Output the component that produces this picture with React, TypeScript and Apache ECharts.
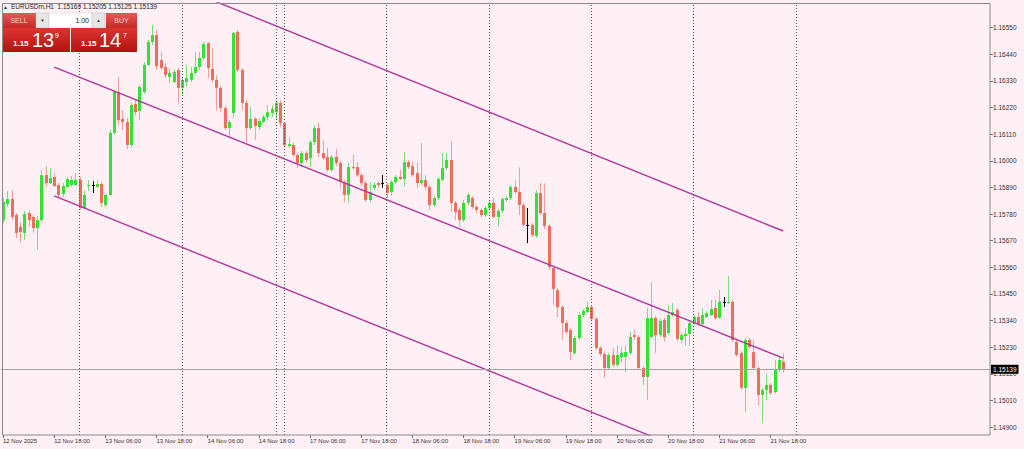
import React, { useEffect, useRef } from "react";
import * as echarts from "echarts";

const timeLabels: string[] = [
  "12 Nov 2025", "12 Nov 18:00", "13 Nov 06:00", "13 Nov 18:00", "14 Nov 06:00", "14 Nov 18:00",
  "17 Nov 06:00", "17 Nov 18:00", "18 Nov 06:00", "18 Nov 18:00", "19 Nov 06:00", "19 Nov 18:00",
  "20 Nov 06:00", "20 Nov 18:00", "21 Nov 06:00", "21 Nov 18:00",
];

const yTicks: number[] = [
  1.149, 1.1501, 1.1512, 1.1523, 1.1534, 1.1545, 1.1556, 1.1567, 1.1578, 1.1589,
  1.16, 1.1611, 1.1622, 1.1633, 1.1644, 1.1655,
];

const separators: number[] = [18, 42, 64, 66, 90, 114, 138, 162, 186];

const opens: number[] = [
  1.15755, 1.15822, 1.15842, 1.15776, 1.15727, 1.15702, 1.15784, 1.15768, 1.15722, 1.15755,
  1.15941, 1.15908, 1.15933, 1.15900, 1.15863, 1.15892, 1.15900, 1.15900, 1.15921, 1.15805,
  1.15896, 1.15900, 1.15892, 1.15904, 1.15817, 1.15859, 1.16115, 1.16284, 1.16173, 1.16160,
  1.16065, 1.16234, 1.16206, 1.16284, 1.16396, 1.16491, 1.16519, 1.16416, 1.16387, 1.16346,
  1.16325, 1.16375, 1.16301, 1.16325, 1.16334, 1.16363, 1.16387, 1.16424, 1.16486, 1.16379,
  1.16334, 1.16301, 1.16218, 1.16135, 1.16197, 1.16532, 1.16375, 1.16239, 1.16135, 1.16173,
  1.16139, 1.16160, 1.16181, 1.16197, 1.16201, 1.16239, 1.16156, 1.16061, 1.16065, 1.16024,
  1.15991, 1.16032, 1.16011, 1.16077, 1.16135, 1.16032, 1.16016, 1.15962, 1.16016, 1.15991,
  1.15912, 1.15859, 1.15974, 1.15974, 1.15941, 1.15908, 1.15838, 1.15888, 1.15908, 1.15908,
  1.15900, 1.15871, 1.15912, 1.15933, 1.15925, 1.15995, 1.15978, 1.15949, 1.15908, 1.15921,
  1.15892, 1.15817, 1.15846, 1.15921, 1.15970, 1.16003, 1.15826, 1.15797, 1.15755, 1.15826,
  1.15846, 1.15809, 1.15797, 1.15776, 1.15805, 1.15826, 1.15768, 1.15793, 1.15838, 1.15846,
  1.15892, 1.15871, 1.15817, 1.15735, 1.15735, 1.15689, 1.15867, 1.15784, 1.15731, 1.15557,
  1.15466, 1.15396, 1.15330, 1.15301, 1.15206, 1.15268, 1.15363, 1.15375, 1.15396, 1.15347,
  1.15227, 1.15202, 1.15144, 1.15198, 1.15157, 1.15190, 1.15190, 1.15206, 1.15280, 1.15272,
  1.15144, 1.15107, 1.15272, 1.15351, 1.15280, 1.15342, 1.15289, 1.15363, 1.15384, 1.15260,
  1.15276, 1.15285, 1.15330, 1.15355, 1.15326, 1.15355, 1.15363, 1.15392, 1.15351, 1.15417,
  1.15413, 1.15417, 1.15252, 1.15206, 1.15062, 1.15260, 1.15210, 1.15144, 1.15033, 1.15053,
  1.15074, 1.15045, 1.15136, 1.15169,
];

const closes: number[] = [
  1.15830, 1.15842, 1.15768, 1.15702, 1.15706, 1.15780, 1.15755, 1.15722, 1.15755, 1.15941,
  1.15908, 1.15929, 1.15896, 1.15859, 1.15896, 1.15925, 1.15921, 1.15921, 1.15805, 1.15859,
  1.15900, 1.15900, 1.15904, 1.15826, 1.15859, 1.16115, 1.16284, 1.16168, 1.16160, 1.16065,
  1.16230, 1.16201, 1.16305, 1.16396, 1.16491, 1.16519, 1.16391, 1.16383, 1.16354, 1.16363,
  1.16367, 1.16301, 1.16334, 1.16342, 1.16363, 1.16387, 1.16424, 1.16482, 1.16383, 1.16334,
  1.16301, 1.16218, 1.16135, 1.16160, 1.16528, 1.16375, 1.16239, 1.16135, 1.16173, 1.16144,
  1.16164, 1.16181, 1.16201, 1.16214, 1.16239, 1.16156, 1.16065, 1.16069, 1.16024, 1.15991,
  1.16032, 1.16003, 1.16077, 1.16135, 1.16032, 1.16011, 1.15962, 1.16016, 1.15991, 1.15912,
  1.15859, 1.15974, 1.15970, 1.15941, 1.15908, 1.15838, 1.15871, 1.15900, 1.15900, 1.15908,
  1.15867, 1.15912, 1.15933, 1.15925, 1.15995, 1.15974, 1.15941, 1.15908, 1.15921, 1.15892,
  1.15817, 1.15846, 1.15925, 1.15970, 1.16003, 1.15826, 1.15788, 1.15755, 1.15826, 1.15859,
  1.15809, 1.15797, 1.15776, 1.15805, 1.15826, 1.15768, 1.15793, 1.15842, 1.15846, 1.15892,
  1.15871, 1.15817, 1.15735, 1.15735, 1.15693, 1.15867, 1.15784, 1.15731, 1.15561, 1.15471,
  1.15396, 1.15330, 1.15293, 1.15210, 1.15268, 1.15363, 1.15380, 1.15396, 1.15347, 1.15227,
  1.15202, 1.15144, 1.15198, 1.15157, 1.15198, 1.15206, 1.15210, 1.15272, 1.15272, 1.15144,
  1.15107, 1.15351, 1.15351, 1.15280, 1.15338, 1.15272, 1.15363, 1.15375, 1.15264, 1.15280,
  1.15285, 1.15330, 1.15355, 1.15326, 1.15363, 1.15371, 1.15388, 1.15351, 1.15417, 1.15417,
  1.15417, 1.15260, 1.15198, 1.15062, 1.15260, 1.15231, 1.15144, 1.15033, 1.15053, 1.15074,
  1.15041, 1.15136, 1.15177, 1.15139,
];

const lows: number[] = [
  1.15743, 1.15809, 1.15755, 1.15681, 1.15660, 1.15673, 1.15727, 1.15702, 1.15632, 1.15747,
  1.15892, 1.15904, 1.15892, 1.15850, 1.15850, 1.15888, 1.15892, 1.15896, 1.15797, 1.15801,
  1.15875, 1.15867, 1.15888, 1.15809, 1.15809, 1.15855, 1.16106, 1.16148, 1.16127, 1.16049,
  1.16053, 1.16189, 1.16168, 1.16276, 1.16391, 1.16478, 1.16375, 1.16375, 1.16342, 1.16321,
  1.16321, 1.16239, 1.16272, 1.16305, 1.16325, 1.16354, 1.16375, 1.16416, 1.16342, 1.16325,
  1.16210, 1.16201, 1.16127, 1.16094, 1.16177, 1.16367, 1.16210, 1.16077, 1.16127, 1.16086,
  1.16127, 1.16156, 1.16168, 1.16181, 1.16168, 1.16139, 1.16053, 1.16053, 1.16016, 1.15970,
  1.15974, 1.15991, 1.15974, 1.16065, 1.16016, 1.16003, 1.15954, 1.15954, 1.15978, 1.15888,
  1.15830, 1.15826, 1.15962, 1.15933, 1.15896, 1.15830, 1.15826, 1.15879, 1.15888, 1.15888,
  1.15846, 1.15855, 1.15904, 1.15921, 1.15892, 1.15966, 1.15933, 1.15888, 1.15900, 1.15879,
  1.15797, 1.15809, 1.15838, 1.15916, 1.15962, 1.15788, 1.15755, 1.15727, 1.15747, 1.15817,
  1.15801, 1.15784, 1.15768, 1.15768, 1.15797, 1.15764, 1.15727, 1.15784, 1.15830, 1.15838,
  1.15863, 1.15776, 1.15727, 1.15660, 1.15685, 1.15681, 1.15776, 1.15718, 1.15549, 1.15404,
  1.15355, 1.15260, 1.15285, 1.15177, 1.15198, 1.15260, 1.15355, 1.15371, 1.15338, 1.15219,
  1.15194, 1.15103, 1.15136, 1.15148, 1.15148, 1.15169, 1.15128, 1.15198, 1.15260, 1.15136,
  1.15074, 1.15012, 1.15268, 1.15206, 1.15272, 1.15252, 1.15280, 1.15355, 1.15256, 1.15248,
  1.15235, 1.15235, 1.15322, 1.15318, 1.15318, 1.15351, 1.15359, 1.15342, 1.15347, 1.15396,
  1.15409, 1.15252, 1.15190, 1.15053, 1.14962, 1.15223, 1.15136, 1.14991, 1.14917, 1.15012,
  1.15033, 1.15037, 1.15128, 1.15125,
];

const highs: number[] = [
  1.15846, 1.15875, 1.15879, 1.15784, 1.15747, 1.15793, 1.15797, 1.15776, 1.15772, 1.15962,
  1.15978, 1.15970, 1.15949, 1.15908, 1.15908, 1.15933, 1.15937, 1.15949, 1.15933, 1.15879,
  1.15921, 1.15916, 1.15921, 1.15912, 1.15863, 1.16127, 1.16292, 1.16346, 1.16210, 1.16177,
  1.16239, 1.16251, 1.16313, 1.16408, 1.16499, 1.16561, 1.16540, 1.16449, 1.16404, 1.16383,
  1.16375, 1.16383, 1.16346, 1.16396, 1.16387, 1.16449, 1.16449, 1.16491, 1.16491, 1.16466,
  1.16354, 1.16309, 1.16226, 1.16168, 1.16532, 1.16540, 1.16383, 1.16251, 1.16222, 1.16181,
  1.16177, 1.16189, 1.16230, 1.16230, 1.16251, 1.16251, 1.16160, 1.16098, 1.16073, 1.16032,
  1.16040, 1.16040, 1.16086, 1.16148, 1.16156, 1.16086, 1.16053, 1.16024, 1.16049, 1.15999,
  1.15921, 1.15991, 1.16024, 1.15995, 1.15949, 1.15916, 1.15912, 1.15912, 1.15912, 1.15941,
  1.15908, 1.15921, 1.15941, 1.15962, 1.16036, 1.16003, 1.15995, 1.15991, 1.16073, 1.15941,
  1.15900, 1.15855, 1.15933, 1.16032, 1.16032, 1.16082, 1.15834, 1.15805, 1.15838, 1.15867,
  1.15855, 1.15817, 1.15805, 1.15813, 1.15838, 1.15846, 1.15801, 1.15850, 1.15855, 1.15900,
  1.15921, 1.15974, 1.15826, 1.15805, 1.15743, 1.15879, 1.15908, 1.15908, 1.15739, 1.15565,
  1.15475, 1.15404, 1.15338, 1.15309, 1.15276, 1.15375, 1.15388, 1.15417, 1.15404, 1.15355,
  1.15235, 1.15210, 1.15206, 1.15227, 1.15239, 1.15231, 1.15239, 1.15293, 1.15301, 1.15280,
  1.15152, 1.15392, 1.15499, 1.15359, 1.15347, 1.15351, 1.15404, 1.15413, 1.15392, 1.15289,
  1.15309, 1.15338, 1.15363, 1.15375, 1.15392, 1.15380, 1.15425, 1.15425, 1.15466, 1.15437,
  1.15524, 1.15425, 1.15260, 1.15214, 1.15268, 1.15268, 1.15260, 1.15152, 1.15062, 1.15123,
  1.15082, 1.15177, 1.15190, 1.15205,
];

// trend channel anchor points: [bar index, price]
const upperChannel: number[][] = [[49, 1.16664], [183, 1.1571]];
const middleChannel: number[][] = [[12, 1.16387], [183, 1.15185]];
const lowerChannel: number[][] = [[12, 1.15855], [152, 1.14863]];

const currentPrice = 1.15139;
const headerText = "EURUSDm,H1  1.15169 1.15205 1.15125 1.15139";

const Y_MIN = 1.148675;
const Y_MAX = 1.166516;
const N_SLOTS = 232;

const BG = "#fff0f5";
const BULL = "#33e233";
const BEAR = "#ef6e5b";
const BULL_WICK = "#7ddc7d";
const BEAR_WICK = "#eda093";
const CHANNEL = "#b0339f";
const FONT = "'Liberation Sans', Arial, sans-serif";

const categories: string[] = Array.from({ length: N_SLOTS }, (_, i) => String(i));
const candleRows = opens.map((o, i) => [i, o, closes[i], lows[i], highs[i]]);

function panelGraphics(): any[] {
  const btnGrad = () =>
    new echarts.graphic.LinearGradient(0, 0, 0, 1, [
      { offset: 0, color: "#e45a55" },
      { offset: 1, color: "#c72a27" },
    ]);
  const bigGrad = () =>
    new echarts.graphic.LinearGradient(0, 0, 0, 1, [
      { offset: 0, color: "#dc3431" },
      { offset: 1, color: "#b3130f" },
    ]);
  const txt = (text: string, x: number, y: number, size: number, fill: string, weight = "normal", align = "left", valign = "middle") => ({
    type: "text",
    x,
    y,
    z: 101,
    silent: true,
    style: { text, fill, fontSize: size, fontFamily: FONT, fontWeight: weight, align, verticalAlign: valign },
  });
  return [
    txt("▲", 3, 6.5, 5, "#333"),
    txt(headerText, 11, 6.5, 6.5, "#222"),
    { type: "rect", z: 100, shape: { x: 3, y: 13, width: 33, height: 15 }, style: { fill: btnGrad() } },
    { type: "rect", z: 100, shape: { x: 36, y: 13, width: 13, height: 15 }, style: { fill: "#e6e6e6", stroke: "#bbbbbb", lineWidth: 0.5 } },
    { type: "rect", z: 100, shape: { x: 49, y: 13, width: 43, height: 15 }, style: { fill: "#ffffff", stroke: "#cccccc", lineWidth: 0.5 } },
    { type: "rect", z: 100, shape: { x: 92, y: 13, width: 13, height: 15 }, style: { fill: "#e6e6e6", stroke: "#bbbbbb", lineWidth: 0.5 } },
    { type: "rect", z: 100, shape: { x: 106, y: 13, width: 31, height: 15 }, style: { fill: btnGrad() } },
    txt("SELL", 19, 20.5, 7, "#f6cccc", "normal", "center"),
    txt("▼", 42.5, 20.5, 4.5, "#333", "normal", "center"),
    txt("1.00", 89, 20.5, 7, "#222", "normal", "right"),
    txt("▲", 98.5, 20.5, 4.5, "#333", "normal", "center"),
    txt("BUY", 121.5, 20.5, 7, "#f6cccc", "normal", "center"),
    { type: "rect", z: 100, shape: { x: 3, y: 28, width: 67, height: 24 }, style: { fill: bigGrad() } },
    { type: "rect", z: 100, shape: { x: 71, y: 28, width: 66, height: 24 }, style: { fill: bigGrad() } },
    txt("1.15", 13, 47, 8, "#ffffff", "bold", "left", "bottom"),
    txt("13", 32, 49.5, 20, "#ffffff", "normal", "left", "bottom"),
    txt("9", 55, 32, 7, "#ffffff", "normal", "left", "top"),
    txt("1.15", 81, 47, 8, "#ffffff", "bold", "left", "bottom"),
    txt("14", 99, 49.5, 20, "#ffffff", "normal", "left", "bottom"),
    txt("7", 123, 32, 7, "#ffffff", "normal", "left", "top"),
  ];
}

export default function App() {
  const ref = useRef<HTMLDivElement>(null);
  useEffect(() => {
    document.body.style.margin = "0";
    const chart = echarts.init(ref.current!, null, { renderer: "svg" });
    const tickShown = (i: number) => i % 12 === 0 && i / 12 < timeLabels.length;
    const markLines = {
      silent: true,
      symbol: "none",
      animation: false,
      precision: 5,
      data: [
        ...separators.map((s) => ({
          xAxis: String(s),
          lineStyle: { type: [1, 2], color: "#555555", width: 1 },
          label: { show: false },
        })),
        {
          yAxis: currentPrice,
          lineStyle: { type: "solid", color: "#a3a3a3", width: 1 },
          label: {
            show: true,
            position: "end",
            formatter: currentPrice.toFixed(5),
            backgroundColor: "#000000",
            color: "#ffffff",
            fontSize: 6.5,
            fontFamily: FONT,
            padding: [1, 2, 1, 2],
            distance: 1,
          },
        },
      ],
    };
    const option: any = {
      animation: false,
      backgroundColor: BG,
      textStyle: { fontFamily: FONT },
      grid: { left: 0, right: 34, top: 3, bottom: 14 },
      xAxis: {
        type: "category",
        data: categories,
        boundaryGap: true,
        axisLine: { show: false },
        axisTick: { show: true, alignWithLabel: true, interval: tickShown, length: 3, lineStyle: { color: "#707070" } },
        axisLabel: {
          interval: tickShown,
          formatter: (_v: string, i: number) => timeLabels[i / 12] ?? "",
          align: "left",
          fontSize: 6,
          color: "#333",
          margin: 3,
          fontFamily: FONT,
        },
        splitLine: { show: false },
      },
      yAxis: {
        type: "value",
        position: "right",
        min: Y_MIN,
        max: Y_MAX,
        axisLine: { show: false },
        axisTick: { show: true, customValues: yTicks, length: 3, lineStyle: { color: "#707070" } },
        axisLabel: {
          customValues: yTicks,
          formatter: (v: number) => v.toFixed(5),
          fontSize: 6.5,
          color: "#333",
          margin: 3,
          fontFamily: FONT,
        },
        splitLine: { show: false },
      },
      graphic: [
        {
          type: "rect",
          z: 50,
          silent: true,
          shape: { x: 2.5, y: 3.5, width: 987.5, height: 431.5 },
          style: { fill: "none", stroke: "#8a8a8a", lineWidth: 1 },
        },
        ...panelGraphics(),
      ],
      series: [
        {
          type: "line",
          name: "levels",
          data: [],
          symbol: "none",
          silent: true,
          markLine: markLines,
          z: 1,
        },
        {
          type: "custom",
          name: "EURUSDm",
          data: candleRows,
          encode: { x: 0, y: [1, 2, 3, 4] },
          renderItem: (_p: any, api: any) => {
            const i = api.value(0);
            const o = api.value(1);
            const c = api.value(2);
            const l = api.value(3);
            const h = api.value(4);
            const pO = api.coord([i, o]);
            const pC = api.coord([i, c]);
            const pL = api.coord([i, l]);
            const pH = api.coord([i, h]);
            const x = Math.round(pO[0]);
            const doji = o === c;
            const bull = c > o;
            const body = doji ? "#000000" : bull ? BULL : BEAR;
            const wick = doji ? "#000000" : bull ? BULL_WICK : BEAR_WICK;
            const top = Math.min(pO[1], pC[1]);
            const bot = Math.max(pO[1], pC[1]);
            return {
              type: "group",
              children: [
                { type: "line", shape: { x1: x + 0.5, y1: pH[1], x2: x + 0.5, y2: pL[1] }, style: { stroke: wick, lineWidth: 1 } },
                { type: "rect", shape: { x: x - 1, y: top, width: 3, height: Math.max(1, bot - top) }, style: { fill: body } },
              ],
            };
          },
          z: 2,
        },
        ...[upperChannel, middleChannel, lowerChannel].map((d) => ({
          type: "line",
          data: d,
          symbol: "none",
          silent: true,
          clip: true,
          lineStyle: { color: CHANNEL, width: 1.4 },
          z: 3,
        })),
      ],
    };
    chart.setOption(option);
    return () => chart.dispose();
  }, []);
  return <div ref={ref} style={{ width: 1024, height: 449 }} />;
}
